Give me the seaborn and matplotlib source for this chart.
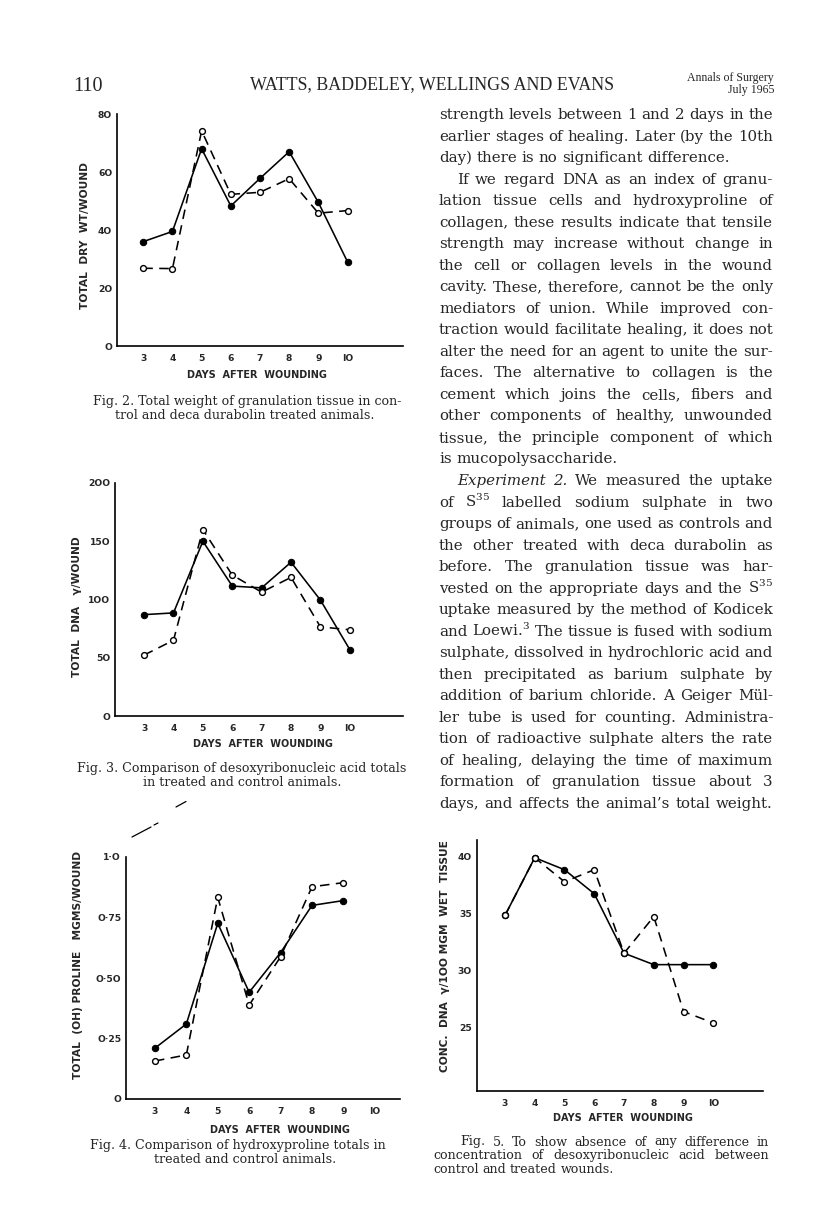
import matplotlib
matplotlib.use("Agg")
import matplotlib.pyplot as plt
import seaborn as sns
from matplotlib.lines import Line2D

# ---- data ----
days = [3, 4, 5, 6, 7, 8, 9, 10]
days_fig4 = [3, 4, 5, 6, 7, 8, 9]

# Fig. 2 total dry weight / wound
fig2_solid = [36, 39.5, 68, 48.3, 57.8, 67, 49.5, 29]
fig2_dashed = [26.8, 26.7, 74.2, 52.3, 53, 57.7, 45.8, 46.7]
fig2_yticks = [0, 20, 40, 60, 80]

# Fig. 3 total DNA / wound
fig3_solid = [87, 88.5, 150, 111.5, 110, 132, 99.5, 57]
fig3_dashed = [52.3, 65, 160, 121, 106.3, 119, 76.5, 74]
fig3_yticks = [0, 50, 100, 150, 200]

# Fig. 4 total hydroxyproline
fig4_solid = [0.21, 0.31, 0.726, 0.441, 0.605, 0.80, 0.82]
fig4_dashed = [0.157, 0.182, 0.833, 0.388, 0.588, 0.877, 0.894]
fig4_yticks = [0, 0.25, 0.5, 0.75, 1.0]
fig4_ylabels = ["O", "O·25", "O·5O", "O·75", "1·O"]

# Fig. 5 DNA concentration
fig5_solid = [34.8, 39.85, 38.8, 36.7, 31.5, 30.5, 30.5, 30.5]
fig5_dashed = [34.8, 39.85, 37.75, 38.8, 31.5, 34.7, 26.4, 25.4]
fig5_yticks = [25, 30, 35, 40]

day_labels = ["3", "4", "5", "6", "7", "8", "9", "IO"]

body_lines = [
    "strength levels between 1 and 2 days in the",
    "earlier stages of healing. Later (by the 10th",
    "day) there is no significant difference.",
    "If we regard DNA as an index of granu-",
    "lation tissue cells and hydroxyproline of",
    "collagen, these results indicate that tensile",
    "strength may increase without change in",
    "the cell or collagen levels in the wound",
    "cavity. These, therefore, cannot be the only",
    "mediators of union. While improved con-",
    "traction would facilitate healing, it does not",
    "alter the need for an agent to unite the sur-",
    "faces. The alternative to collagen is the",
    "cement which joins the cells, fibers and",
    "other components of healthy, unwounded",
    "tissue, the principle component of which",
    "is mucopolysaccharide.",
    "*Experiment *2. We measured the uptake",
    "of S$^{35}$ labelled sodium sulphate in two",
    "groups of animals, one used as controls and",
    "the other treated with deca durabolin as",
    "before. The granulation tissue was har-",
    "vested on the appropriate days and the S$^{35}$",
    "uptake measured by the method of Kodicek",
    "and Loewi.$^{3}$ The tissue is fused with sodium",
    "sulphate, dissolved in hydrochloric acid and",
    "then precipitated as barium sulphate by",
    "addition of barium chloride. A Geiger Mül-",
    "ler tube is used for counting. Administra-",
    "tion of radioactive sulphate alters the rate",
    "of healing, delaying the time of maximum",
    "formation of granulation tissue about 3",
    "days, and affects the animal’s total weight.",
]

fig2_caption = ["Fig. 2. Total weight of granulation tissue in con-",
                "trol and deca durabolin treated animals."]
fig3_caption = ["Fig. 3. Comparison of desoxyribonucleic acid totals",
                "in treated and control animals."]
fig4_caption = ["Fig. 4. Comparison of hydroxyproline totals in",
                "treated and control animals."]
fig5_caption = [
    "Fig. 5. To show absence of any difference in",
    "concentration of desoxyribonucleic acid between",
    "control and treated wounds.",
]

W, H = 816, 1219
SERIF = "DejaVu Serif"
TIMES = "Liberation Serif"

sns.set_style("white")
plt.rcParams["font.family"] = ["DejaVu Sans"]
plt.rcParams["mathtext.fontset"] = "dejavuserif"

fig = plt.figure(figsize=(W / 100, H / 100), dpi=100)
fig.patch.set_facecolor("white")
renderer = fig.canvas.get_renderer()


def px_axes(left, top, right, bottom):
    return fig.add_axes([left / W, 1 - bottom / H, (right - left) / W, (bottom - top) / H])


def draw_chart(ax, xs, solid, dashed, xlim, ylim, yticks, yticklabels,
               ylabel, ylab_pos, xlab_pos):
    sns.lineplot(x=xs, y=solid, ax=ax, color="black", lw=1.15, marker="o",
                 markersize=4.6, markerfacecolor="black", markeredgecolor="black")
    sns.lineplot(x=xs, y=dashed, ax=ax, color="black", lw=1.15, ls=(0, (6, 4)),
                 marker="o", markersize=4.2, markerfacecolor="white",
                 markeredgecolor="black", markeredgewidth=1.0)
    sns.despine(ax=ax)
    for side in ["left", "bottom"]:
        ax.spines[side].set_linewidth(1.2)
        ax.spines[side].set_color("black")
    ax.set_xlim(*xlim)
    ax.set_ylim(*ylim)
    ax.set_xticks(days, labels=day_labels, fontsize=6.6, fontweight="bold")
    ax.set_yticks(yticks, labels=yticklabels, fontsize=6.6, fontweight="bold")
    ax.tick_params(axis="x", length=0, pad=5.5)
    ax.tick_params(axis="y", length=0, pad=3.5)
    ax.set_xlabel("DAYS  AFTER  WOUNDING", fontsize=7, fontweight="bold", va="center")
    ax.set_ylabel(ylabel, fontsize=7.7, fontweight="bold", va="center")
    ax.xaxis.set_label_coords(*xlab_pos)
    ax.yaxis.set_label_coords(*ylab_pos)
    ax.set_facecolor("none")


def put_justified(lines, x0, x1, base0, step, size, indent=(), last=(), ind=18):
    for i, line in enumerate(lines):
        y = 1 - (base0 + i * step) / H
        left = x0 + (ind if i in indent else 0)
        fs = size
        while True:
            objs = []
            for w in line.split():
                style = "normal"
                if w.startswith("*"):
                    w, style = w[1:], "italic"
                objs.append(fig.text(0, y, w, fontsize=fs, family=SERIF,
                                     style=style, va="baseline", ha="left"))
            widths = [t.get_window_extent(renderer).width for t in objs]
            space = fs * 0.30 * 100 / 72
            if i in last or len(objs) == 1:
                gap = space
            else:
                gap = (x1 - left - sum(widths)) / (len(objs) - 1)
            if gap >= space * 0.7 or fs < size * 0.85:
                break
            for t in objs:
                t.remove()
            fs -= 0.1
        x = left
        for t, w in zip(objs, widths):
            t.set_x(x / W)
            x += w + gap


# ---- the four charts ----
ax2 = px_axes(117, 114, 403, 346)
draw_chart(ax2, days, fig2_solid, fig2_dashed, (2.1, 11.9), (0, 80),
           fig2_yticks, ["O", "2O", "4O", "6O", "8O"], "TOTAL  DRY  WT/WOUND",
           (-32 / 286, 0.478), (0.49, -29 / 232))

ax3 = px_axes(115, 483, 403, 716)
draw_chart(ax3, days, fig3_solid, fig3_dashed, (2.01, 11.81), (0, 200),
           fig3_yticks, ["O", "5O", "1OO", "15O", "2OO"], "TOTAL  DNA   γ/WOUND",
           (-38 / 288, 0.468), (0.514, -28 / 233))

ax4 = px_axes(126, 857, 400, 1099)
draw_chart(ax4, days_fig4, fig4_solid, fig4_dashed, (2.08, 10.8), (0, 1.0),
           fig4_yticks, fig4_ylabels, "TOTAL  (OH) PROLINE   MGMS/WOUND",
           (-48 / 274, 0.554), (0.562, -31 / 242))

ax5 = px_axes(477, 840, 763, 1091)
draw_chart(ax5, days, fig5_solid, fig5_dashed, (2.06, 11.67), (19.45, 41.4),
           fig5_yticks, ["25", "3O", "35", "4O"], "CONC.  DNA  γ/1OO MGM  WET  TISSUE",
           (-32 / 286, 0.538), (0.51, -27 / 251))

# stray scan strokes above Fig. 4
for (xa, ya), (xb, yb) in [((132, 837), (151, 827)), ((154, 825), (158, 823)),
                           ((176, 807), (186, 801.5))]:
    fig.add_artist(Line2D([xa / W, xb / W], [1 - ya / H, 1 - yb / H],
                          color="black", lw=0.9, transform=fig.transFigure))

# ---- running head ----
fig.text(73 / W, 1 - 91 / H, "110", fontsize=14.5, family=TIMES, va="baseline")
fig.text(250 / W, 1 - 89 / H, "WATTS, BADDELEY, WELLINGS AND EVANS",
         fontsize=12.9, family=TIMES, va="baseline")
fig.text(774 / W, 1 - 81.5 / H, "Annals of Surgery", fontsize=8.6, family=TIMES,
         va="baseline", ha="right")
fig.text(774 / W, 1 - 93 / H, "July 1965", fontsize=8.6, family=TIMES,
         va="baseline", ha="right")

# ---- left column captions, centred lines ----
cap = 9.1
for lines, base, centres in [(fig2_caption, 404.5, (247, 245)),
                             (fig3_caption, 772, (242, 242)),
                             (fig4_caption, 1149, (238, 245))]:
    for k, text in enumerate(lines):
        fig.text(centres[k] / W, 1 - (base + 14 * k) / H, text, fontsize=cap,
                 family=SERIF, va="baseline", ha="center")

# ---- right column body text and Fig. 5 caption ----
put_justified(body_lines, 439, 773, 119, 21.53, 10.8, indent=(3, 17), last=(2, 16))
put_justified(fig5_caption, 433, 769, 1145.5, 13.8, cap, indent=(0,), last=(2,), ind=27)

fig.savefig("out.png", dpi=100, facecolor="white")
